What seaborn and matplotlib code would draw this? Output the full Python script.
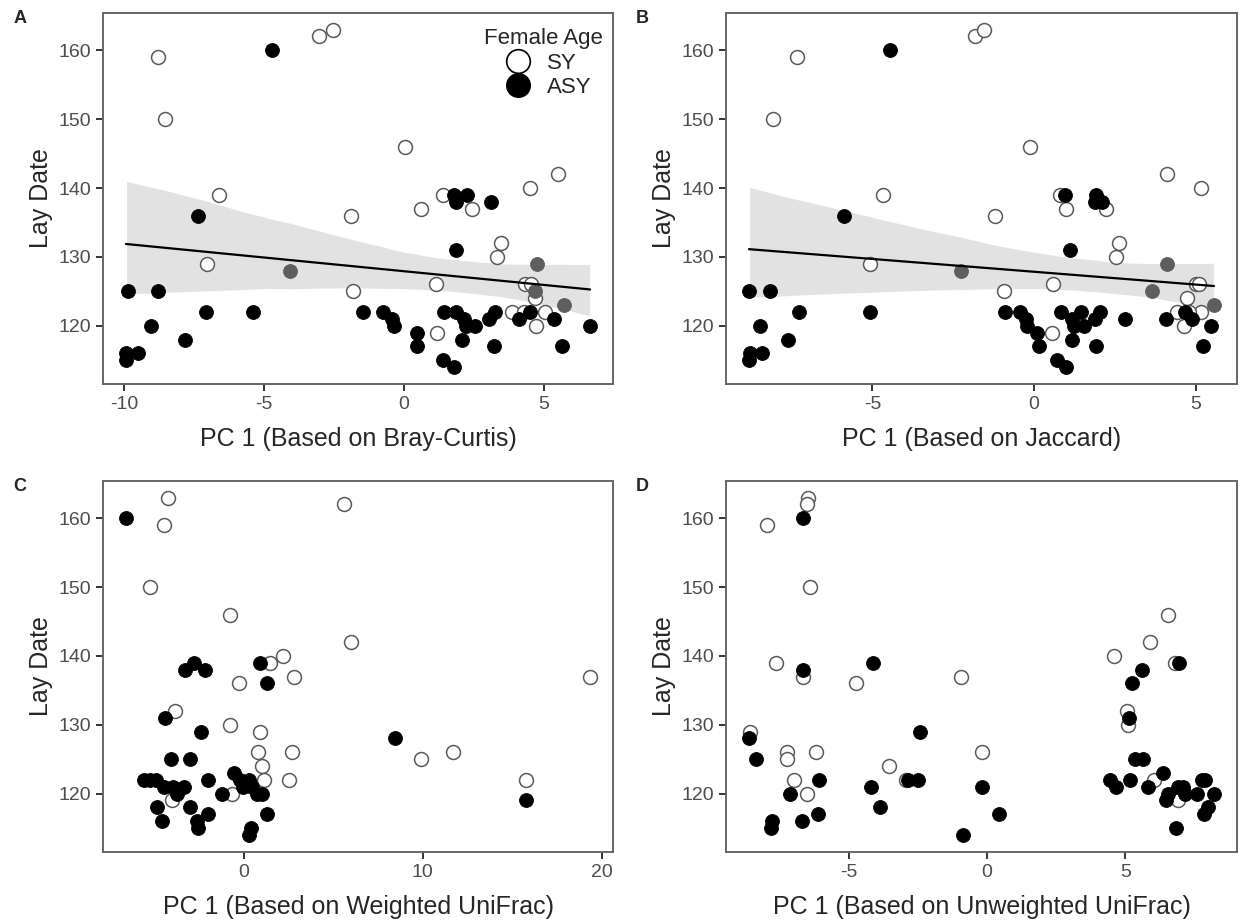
import matplotlib.pyplot as plt
import matplotlib.lines as mlines
import pandas as pd
import seaborn as sns

# Panel A: PC 1 based on Bray-Curtis
bray_sy_x = [-8.81, -8.54, -3.04, -2.55, -6.63, -7.06, -1.88, -1.82, 0.05, 5.50, 4.50, 1.40, 2.43,
             0.59, 3.46, 3.33, 1.15, 4.32, 4.54, 4.69, 3.85, 4.30, 5.04, 4.72, 1.17]
bray_sy_y = [159, 150, 162, 163, 139, 129, 136, 125, 146, 142, 140, 139, 137,
             137, 132, 130, 126, 126, 126, 124, 122, 122, 122, 120, 119]
bray_asy_x = [-4.71, -7.37, -9.87, -8.81, -7.08, -5.40, -9.03, -7.83, -9.94, -9.51, -9.94, 1.79, 2.26,
              1.84, 3.12, 1.86, 4.50, -1.48, -0.76, -0.44, -0.36, 1.42, 1.84, 2.14, 2.20, 2.55,
              3.03, 3.25, 4.10, 5.37, 6.65, 0.46, 0.46, 2.07, 3.20, 5.63, 1.40, 1.79]
bray_asy_y = [160, 136, 125, 125, 122, 122, 120, 118, 116, 116, 115, 139, 139,
              138, 138, 131, 122, 122, 122, 121, 120, 122, 122, 121, 120, 120,
              121, 122, 121, 121, 120, 119, 117, 118, 117, 117, 115, 114]
bray_na_x = [-4.09, 4.74, 4.69, 5.73]
bray_na_y = [128, 129, 125, 123]

# Panel B: PC 1 based on Jaccard
jac_sy_x = [-7.32, -8.08, -4.68, -5.06, -1.84, -1.55, -0.13, 4.13, 5.18, 0.79, 0.99, 2.23, -1.22,
            2.62, 2.53, 0.58, 5.00, 5.09, -0.93, 4.74, 0.56, 4.43, 4.64, 5.18, 4.80]
jac_sy_y = [159, 150, 139, 129, 162, 163, 146, 142, 140, 139, 137, 137, 136,
            132, 130, 126, 126, 126, 125, 124, 119, 122, 120, 122, 122]
jac_asy_x = [-4.47, -5.88, -8.82, -8.17, -7.27, -5.09, -8.47, -7.62, -8.78, -8.41, -8.82, 0.97, 1.93,
             1.88, 2.10, 1.10, -0.91, -0.44, -0.24, -0.21, 0.10, 0.14, 0.82, 1.19, 1.24, 1.46,
             1.55, 1.90, 2.04, 1.18, 1.91, 2.80, 0.72, 0.99, 4.09, 4.89, 5.48, 5.23, 4.68]
jac_asy_y = [160, 136, 125, 125, 122, 122, 120, 118, 116, 116, 115, 139, 139,
             138, 138, 131, 122, 122, 121, 120, 119, 117, 122, 121, 120, 122,
             120, 121, 122, 118, 117, 121, 115, 114, 121, 121, 120, 117, 122]
jac_na_x = [-2.27, 4.11, 3.65, 5.57]
jac_na_y = [128, 129, 125, 123]

# Panel C: PC 1 based on Weighted UniFrac
wuf_sy_x = [-4.23, -4.45, -5.27, -0.80, 5.57, 5.98, 1.45, 2.17, -0.28, 2.78, -3.84, -0.78, 0.89,
            0.78, 2.71, 0.98, -4.03, -0.65, 1.11, 2.50, 9.90, 11.66, 15.78, 19.35]
wuf_sy_y = [163, 159, 150, 146, 162, 142, 139, 140, 136, 137, 132, 130, 129,
            126, 126, 124, 119, 120, 122, 122, 125, 126, 122, 137]
wuf_asy_x = [-6.60, -2.82, -3.30, -2.19, 0.89, 1.30, -4.42, -2.41, -4.08, -3.02, -5.57, -5.23, -4.92,
             -4.45, -3.99, -3.75, -3.38, -4.86, -4.58, -3.02, -2.63, -2.60, -2.04, -2.04, -1.21,
             -0.56, -0.24, -0.04, 0.28, 0.43, 0.74, 1.02, 1.30, 0.37, 0.28, 8.45, 15.78]
wuf_asy_y = [160, 139, 138, 138, 139, 136, 131, 129, 125, 125, 122, 122, 122,
             121, 121, 120, 121, 118, 116, 118, 116, 115, 117, 122, 120,
             123, 122, 121, 122, 121, 120, 120, 117, 115, 114, 128, 119]

# Panel D: PC 1 based on Unweighted UniFrac
uuf_sy_x = [-6.49, -6.51, -7.95, -6.41, -7.63, -6.65, -4.75, -0.93, -8.59, -7.25, -7.24, -6.18, -6.99,
            -3.54, -2.95, -6.53, -0.17, 6.54, 5.90, 4.58, 6.78, 5.04, 5.10, 6.02, 6.88]
uuf_sy_y = [163, 162, 159, 150, 139, 137, 136, 137, 129, 126, 125, 126, 122,
            124, 122, 120, 126, 146, 142, 140, 139, 132, 130, 122, 119]
uuf_asy_x = [-6.64, -6.65, -4.14, -8.61, -8.34, -2.43, -6.08, -4.20, -2.86, -2.49, -7.11, -3.88, -6.11,
             -6.71, -7.77, -7.82, -0.87, -0.18, 0.41, 6.92, 5.59, 5.22, 5.12, 5.34, 5.64, 4.43,
             4.67, 5.17, 5.82, 6.36, 6.54, 6.48, 6.90, 7.08, 7.14, 7.57, 7.75, 7.87, 8.20, 7.99,
             7.84, 6.82]
uuf_asy_y = [160, 138, 139, 128, 125, 129, 122, 121, 122, 122, 120, 118, 117,
             116, 116, 115, 114, 121, 117, 139, 138, 136, 131, 125, 125, 122,
             121, 122, 121, 123, 120, 119, 121, 121, 120, 120, 122, 122, 120, 118,
             117, 115]

y_ticks = [120, 130, 140, 150, 160]

sns.set_style("ticks")
plt.rcParams["font.family"] = ["Liberation Sans", "DejaVu Sans"]
plt.rcParams["axes.unicode_minus"] = False


def make_df(x, y, age):
    return pd.DataFrame({"pc1": x, "lay": y, "age": age})


def draw_panel(ax, sy, asy, na, xlabel, xticks, letter, fit=False):
    """Scatter of lay date vs PC1, open circles for SY and filled for ASY."""
    parts = [make_df(*sy, "SY"), make_df(*asy, "ASY")]
    if na is not None:
        parts.append(make_df(*na, "NA"))
    df = pd.concat(parts, ignore_index=True)

    if fit:
        sns.regplot(data=df, x="pc1", y="lay", ax=ax, scatter=False, ci=95,
                    n_boot=2000, seed=11, color="black",
                    line_kws={"linewidth": 1.6, "zorder": 4})
        band = ax.collections[-1]
        band.set_facecolor("#e2e2e2")
        band.set_alpha(1)
        band.set_zorder(1)

    sns.scatterplot(data=df[df.age == "SY"], x="pc1", y="lay", ax=ax, s=100,
                    color="white", edgecolor="#5a5a5a", linewidth=1.1, zorder=3)
    sns.scatterplot(data=df[df.age == "ASY"], x="pc1", y="lay", ax=ax, s=100,
                    color="black", edgecolor="black", linewidth=0.6, zorder=3)
    if na is not None:
        sns.scatterplot(data=df[df.age == "NA"], x="pc1", y="lay", ax=ax, s=100,
                        color="#5e5e5e", edgecolor="#5e5e5e", linewidth=0.6, zorder=3)

    ax.set_xticks(xticks)
    ax.set_yticks(y_ticks)
    ax.set_xlabel(xlabel, fontsize=18, labelpad=10.5)
    ax.set_ylabel("Lay Date", fontsize=18, labelpad=3.5)
    ax.tick_params(labelsize=14, labelcolor="#4d4d4d", color="#333333",
                   length=5, width=1.4, direction="out")
    for sp in ax.spines.values():
        sp.set_color("#666666")
        sp.set_linewidth(1.4)
    ax.grid(False)
    pos = ax.get_position()
    ax.figure.text(pos.x0 - 0.067, pos.y1 - 0.006, letter,
                   fontsize=13, fontweight="bold", ha="center", va="center")


fig = plt.figure(figsize=(12.41, 9.21), dpi=100)
ax_a = fig.add_axes([0.0828, 0.5831, 0.4114, 0.4031])
ax_b = fig.add_axes([0.5848, 0.5831, 0.4122, 0.4031])
ax_c = fig.add_axes([0.0828, 0.0752, 0.4114, 0.4029])
ax_d = fig.add_axes([0.5848, 0.0752, 0.4122, 0.4029])

draw_panel(ax_a, (bray_sy_x, bray_sy_y), (bray_asy_x, bray_asy_y), (bray_na_x, bray_na_y),
           "PC 1 (Based on Bray-Curtis)", [-10, -5, 0, 5], "A", fit=True)
draw_panel(ax_b, (jac_sy_x, jac_sy_y), (jac_asy_x, jac_asy_y), (jac_na_x, jac_na_y),
           "PC 1 (Based on Jaccard)", [-5, 0, 5], "B", fit=True)
draw_panel(ax_c, (wuf_sy_x, wuf_sy_y), (wuf_asy_x, wuf_asy_y), None,
           "PC 1 (Based on Weighted UniFrac)", [0, 10, 20], "C")
draw_panel(ax_d, (uuf_sy_x, uuf_sy_y), (uuf_asy_x, uuf_asy_y), None,
           "PC 1 (Based on Unweighted UniFrac)", [-5, 0, 5], "D")

handles = [
    mlines.Line2D([], [], linestyle="none", marker="o", markersize=17,
                  markerfacecolor="white", markeredgecolor="black", markeredgewidth=1.2, label="SY"),
    mlines.Line2D([], [], linestyle="none", marker="o", markersize=17,
                  markerfacecolor="black", markeredgecolor="black", label="ASY"),
]
leg = ax_a.legend(handles=handles, title="Female Age", loc="upper right",
                  bbox_to_anchor=(1.0, 0.985), frameon=False,
                  fontsize=16, title_fontsize=16, borderaxespad=0.25,
                  handletextpad=0.3, labelspacing=0.15, borderpad=0.2)

fig.savefig("out.png", dpi=100)
